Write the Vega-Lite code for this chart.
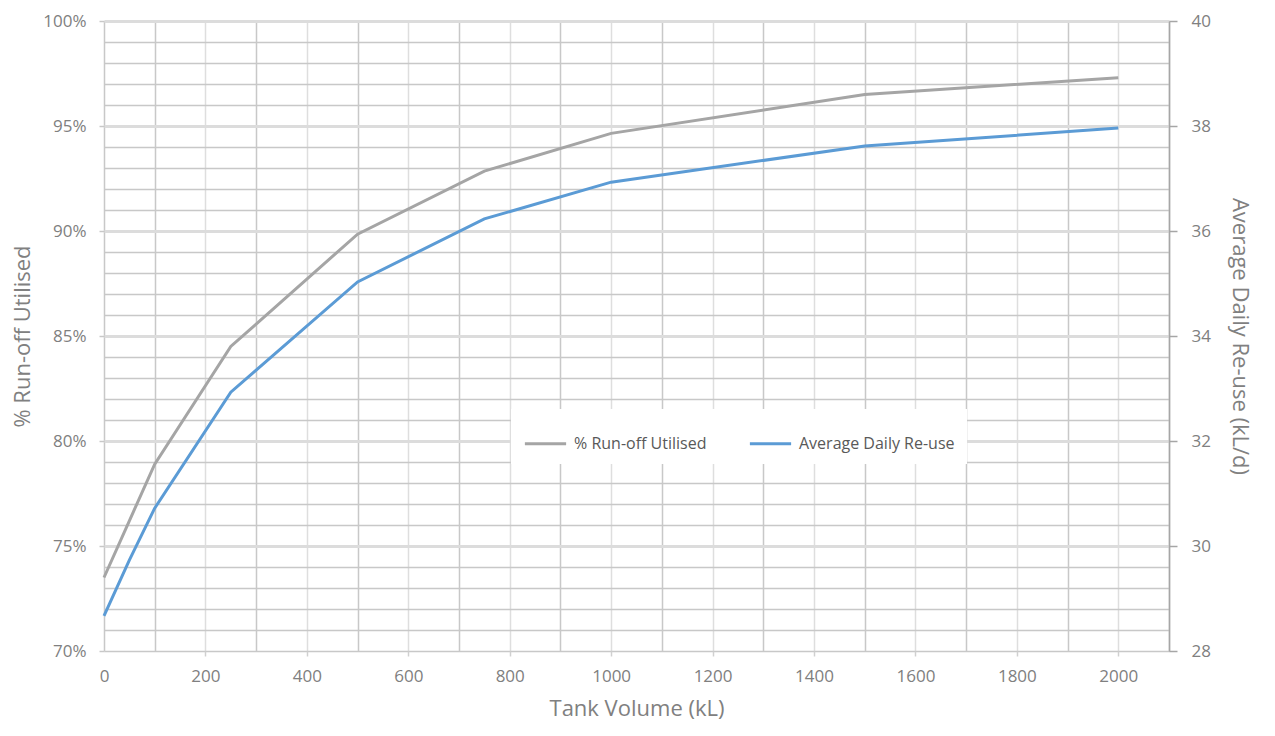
{
  "$schema": "https://vega.github.io/schema/vega-lite/v6.json",
  "width": 1065,
  "height": 630,
  "autosize": "none",
  "padding": {"left": 104, "top": 21, "right": 106, "bottom": 85},
  "background": "white",
  "config": {
    "font": "Open Sans",
    "view": {"stroke": null},
    "axis": {"labelFont": "Open Sans", "titleFont": "Open Sans", "labelColor": "#808080", "titleColor": "#808080", "titleFontWeight": "normal", "labelFontSize": 17, "titleFontSize": 22}
  },
  "data": {
    "values": [
      {"vol": 0, "pct": 73.5, "reuse": 28.67},
      {"vol": 50, "pct": 76.2, "reuse": 29.73},
      {"vol": 100, "pct": 78.9, "reuse": 30.72},
      {"vol": 250, "pct": 84.5, "reuse": 32.93},
      {"vol": 500, "pct": 89.85, "reuse": 35.03},
      {"vol": 750, "pct": 92.85, "reuse": 36.23},
      {"vol": 1000, "pct": 94.65, "reuse": 36.93},
      {"vol": 1500, "pct": 96.5, "reuse": 37.62},
      {"vol": 2000, "pct": 97.3, "reuse": 37.96}
    ]
  },
  "encoding": {
    "x": {
      "field": "vol", "type": "quantitative",
      "scale": {"domain": [0, 2100], "nice": false, "zero": true},
      "axis": {
        "title": "Tank Volume (kL)",
        "values": [0,100,200,300,400,500,600,700,800,900,1000,1100,1200,1300,1400,1500,1600,1700,1800,1900,2000,2100],
        "labelExpr": "datum.value % 200 === 0 && datum.value <= 2000 ? datum.value : ''",
        "domain": false,
        "grid": true,
        "gridColor": {"condition": {"test": "datum.value % 200 === 0 && datum.value > 0", "value": "#dedede"}, "value": "#c8c8c8"},
        "gridWidth": 1.5,
        "tickColor": "#d0d0d0",
        "tickSize": 5,
        "tickWidth": 1.5,
        "tickOpacity": {"condition": {"test": "datum.value % 200 === 0 && datum.value > 0 && datum.value <= 2000", "value": 1}, "value": 0},
        "labelPadding": 12,
        "titlePadding": 14,
        "labelFlush": false
      }
    }
  },
  "layer": [
    {
      "mark": {"type": "line", "strokeWidth": 3},
      "encoding": {
        "y": {
          "field": "pct", "type": "quantitative",
          "scale": {"domain": [70, 100], "nice": false, "zero": false},
          "axis": {
            "title": "% Run-off Utilised",
            "orient": "left",
            "values": [70,71,72,73,74,75,76,77,78,79,80,81,82,83,84,85,86,87,88,89,90,91,92,93,94,95,96,97,98,99,100],
            "labelExpr": "datum.value % 5 === 0 ? datum.value + '%' : ''",
            "domain": false,
            "grid": true,
            "gridColor": {"condition": {"test": "datum.value % 5 === 0 && datum.value > 70", "value": "#dcdcdc"}, "value": "#c8c8c8"},
            "gridWidth": {"condition": {"test": "datum.value % 5 === 0 && datum.value > 70", "value": 3}, "value": 1.5},
            "tickColor": "#c8c8c8",
            "tickSize": 5,
            "tickWidth": 1.5,
            "tickOpacity": {"condition": {"test": "datum.value % 5 === 0", "value": 1}, "value": 0},
            "labelPadding": 13,
            "titlePadding": 8
          }
        },
        "color": {
          "datum": "% Run-off Utilised",
          "type": "nominal",
          "scale": {"domain": ["% Run-off Utilised", "Average Daily Re-use"], "range": ["#a5a5a5", "#5b9bd5"]},
          "legend": {
            "title": null,
            "orient": "none",
            "direction": "horizontal",
            "legendX": 407,
            "legendY": 388,
            "fillColor": "white",
            "padding": 12,
            "symbolType": "stroke",
            "symbolSize": 1700,
            "symbolStrokeWidth": 3,
            "labelFont": "Open Sans",
            "labelFontSize": 16,
            "labelColor": "#595959",
            "labelOffset": 6,
            "columnPadding": 36
          }
        }
      }
    },
    {
      "mark": {"type": "line", "strokeWidth": 3},
      "encoding": {
        "y": {
          "field": "reuse", "type": "quantitative",
          "scale": {"domain": [28, 40], "nice": false, "zero": false},
          "axis": {
            "title": "Average Daily Re-use (kL/d)",
            "orient": "right",
            "values": [28, 30, 32, 34, 36, 38, 40],
            "grid": false,
            "domain": true,
            "domainColor": "#a6a6a6",
            "domainWidth": 1.5,
            "tickColor": "#a6a6a6",
            "tickSize": 8,
            "tickWidth": 1.5,
            "labelPadding": 14,
            "titlePadding": 17
          }
        },
        "color": {"datum": "Average Daily Re-use", "type": "nominal"}
      }
    }
  ],
  "resolve": {"scale": {"y": "independent"}}
}
